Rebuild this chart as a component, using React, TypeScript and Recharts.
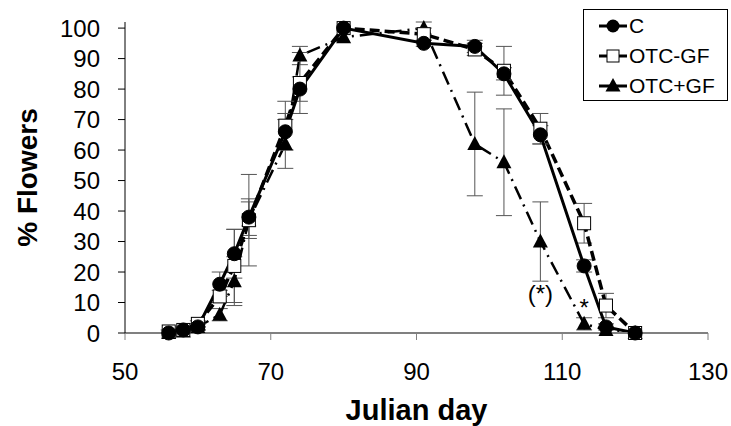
import React from 'react';
import { ComposedChart, Line, XAxis, YAxis, ErrorBar, ReferenceDot, Label } from 'recharts';

const days = [56, 58, 60, 63, 65, 67, 72, 74, 80, 91, 98, 102, 107, 113, 116, 120];
const cValues = [0, 1, 2, 16, 26, 38, 66, 80, 100, 95, 94, 85, 65, 22, 2, 0];
const cErrors = [0, 0.5, 1, 4, 8, 6, 6, 4, 0, 1, 2, 2, 3, 2, 1, 0];
const otcMinusValues = [0.5, 1, 3, 12, 22, 37, 68, 82, 100, 98, 93, 86, 67, 36, 9, 0];
const otcMinusErrors = [0.5, 1, 1, 2, 12, 15, 8, 10, 0, 2, 2, 8, 5, 6.5, 4, 0];
const otcPlusValues = [0, 0.5, 2, 6, 17, 37, 62, 91, 97, 100, 62, 56, 30, 3, 1, 0];
const otcPlusErrors = [0, 0.5, 1, 2, 8, 6, 8, 3, 0, 2, 17, 17.5, 13, 2, 1, 0];
const xTicks = [50, 70, 90, 110, 130];
const yTicks = [0, 10, 20, 30, 40, 50, 60, 70, 80, 90, 100];
const seriesNames = ['C', 'OTC-GF', 'OTC+GF'];

const data = days.map((d, i) => ({
  day: d,
  c: cValues[i],
  cErr: cErrors[i],
  gfm: otcMinusValues[i],
  gfmErr: otcMinusErrors[i],
  gfp: otcPlusValues[i],
  gfpErr: otcPlusErrors[i],
}));

const FONT = '"Liberation Sans", Arial, sans-serif';

const CircleDot = (props: any) => {
  const { cx, cy } = props;
  if (cx == null || cy == null) return null;
  return <circle cx={cx} cy={cy} r={7} fill="#000" stroke="#000" />;
};
const SquareDot = (props: any) => {
  const { cx, cy } = props;
  if (cx == null || cy == null) return null;
  return <rect x={cx - 6.5} y={cy - 6.5} width={13} height={13} fill="#fff" stroke="#000" strokeWidth={1} />;
};
const TriDot = (props: any) => {
  const { cx, cy } = props;
  if (cx == null || cy == null) return null;
  return <path d={`M${cx},${cy - 8} L${cx + 7.5},${cy + 6} L${cx - 7.5},${cy + 6} Z`} fill="#000" />;
};

const LegendIcon = ({ kind }: { kind: number }) => (
  <svg width={29} height={18} style={{ display: 'block' }}>
    <line x1={0} y1={9} x2={28} y2={9} stroke="#000" strokeWidth={3} />
    {kind === 0 && <circle cx={14} cy={9} r={6.5} fill="#000" />}
    {kind === 1 && <rect x={8} y={3} width={12} height={12} fill="#fff" stroke="#000" />}
    {kind === 2 && <path d="M14,1 L21.5,14.5 L6.5,14.5 Z" fill="#000" />}
  </svg>
);

const LegendBox = () => (
  <div
    style={{
      position: 'absolute',
      left: 583,
      top: 9,
      border: '1px solid #000',
      background: '#fff',
      width: 145,
      height: 92,
      boxSizing: 'border-box',
      padding: '1px 0 0 15px',
      fontFamily: FONT,
      fontSize: 21,
      color: '#000',
    }}
  >
    {seriesNames.map((n, i) => (
      <div key={n} style={{ display: 'flex', alignItems: 'center', height: 30, whiteSpace: 'nowrap' }}>
        <LegendIcon kind={i} />
        <span style={{ marginLeft: 1 }}>{n}</span>
      </div>
    ))}
  </div>
);

export default function App() {
  return (
    <div style={{ position: 'absolute', left: 0, top: 0, width: 731, height: 426, background: '#fff' }}>
      <ComposedChart
        width={731}
        height={426}
        data={data}
        margin={{ top: 22, right: 23, left: 0, bottom: 0 }}
      >
        <XAxis
          dataKey="day"
          type="number"
          domain={[50, 130]}
          ticks={xTicks}
          interval={0}
          height={93}
          axisLine={{ stroke: '#808080', strokeWidth: 2 }}
          tickLine={{ stroke: '#808080', strokeWidth: 1 }}
          tickSize={7}
          tickMargin={23}
          tick={{ fill: '#000', fontSize: 24, fontFamily: FONT }}
        >
          <Label
            value="Julian day"
            position="insideBottom"
            offset={6}
            style={{ fill: '#000', fontSize: 29, fontWeight: 'bold', fontFamily: FONT }}
          />
        </XAxis>
        <YAxis
          type="number"
          domain={[0, 100]}
          ticks={yTicks}
          interval={0}
          width={125}
          axisLine={{ stroke: '#000', strokeWidth: 1 }}
          tickLine={{ stroke: '#000', strokeWidth: 1 }}
          tickSize={7}
          tickMargin={18}
          tick={{ fill: '#000', fontSize: 24, fontFamily: FONT }}
        >
          <Label
            value="% Flowers"
            angle={-90}
            position="insideLeft"
            offset={27}
            style={{ fill: '#000', fontSize: 28, fontWeight: 'bold', fontFamily: FONT, textAnchor: 'middle' }}
          />
        </YAxis>
        <Line
          dataKey="gfp"
          name="OTC+GF"
          stroke="#000"
          strokeWidth={2.5}
          strokeDasharray="14 6 2 6"
          dot={<TriDot />}
          isAnimationActive={false}
        >
          <ErrorBar dataKey="gfpErr" width={8} stroke="#555" strokeWidth={1} direction="y" />
        </Line>
        <Line
          dataKey="gfm"
          name="OTC-GF"
          stroke="#000"
          strokeWidth={3.5}
          strokeDasharray="10 5"
          dot={<SquareDot />}
          isAnimationActive={false}
        >
          <ErrorBar dataKey="gfmErr" width={8} stroke="#555" strokeWidth={1} direction="y" />
        </Line>
        <Line
          dataKey="c"
          name="C"
          stroke="#000"
          strokeWidth={3}
          dot={<CircleDot />}
          isAnimationActive={false}
        >
          <ErrorBar dataKey="cErr" width={8} stroke="#555" strokeWidth={1} direction="y" />
        </Line>
        <ReferenceDot x={107} y={12.8} r={0} fill="none" stroke="none" ifOverflow="visible">
          <Label value="(*)" position="center" style={{ fill: '#000', fontSize: 24, fontFamily: FONT }} />
        </ReferenceDot>
        <ReferenceDot x={113} y={8.3} r={0} fill="none" stroke="none" ifOverflow="visible">
          <Label value="*" position="center" style={{ fill: '#000', fontSize: 24, fontFamily: FONT }} />
        </ReferenceDot>
      </ComposedChart>
      <LegendBox />
    </div>
  );
}
